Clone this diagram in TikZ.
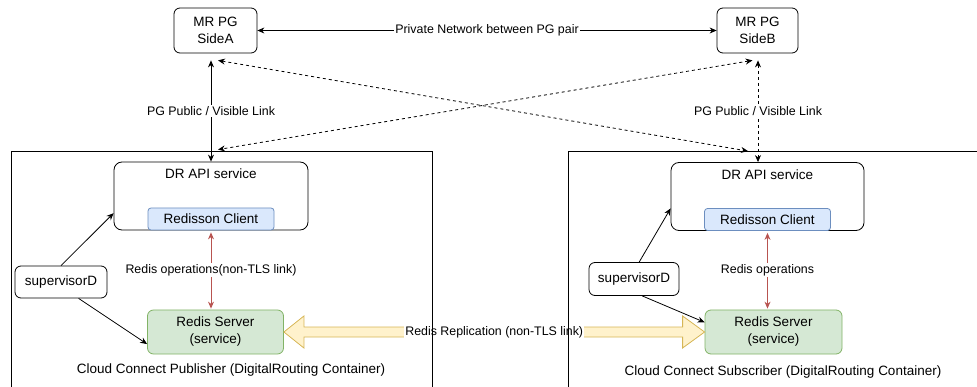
\documentclass[tikz,border=0pt]{standalone}
\usepackage{fontspec}
\setmainfont{Liberation Sans}
\usetikzlibrary{positioning,arrows.meta,calc}

\definecolor{clientfill}{HTML}{DAE8FC}
\definecolor{clientline}{HTML}{6C8EBF}
\definecolor{serverfill}{HTML}{D5E8D4}
\definecolor{serverline}{HTML}{82B366}
\definecolor{replfill}{HTML}{FFF2CC}
\definecolor{replline}{HTML}{D6B656}
\definecolor{opred}{HTML}{B85450}

\begin{document}
\begin{tikzpicture}[
  x=1pt, y=-1pt,
  box/.style={draw, rounded corners=6pt, line width=0.8pt, align=center, inner sep=2pt, font=\fontsize{13.5}{17}\selectfont},
  client/.style={box, draw=clientline, fill=clientfill, rounded corners=3pt, minimum width=126pt, minimum height=22pt},
  server/.style={box, draw=serverline, fill=serverfill, minimum width=136pt, minimum height=44pt},
  tag/.style={fill=white, inner sep=1pt, font=\fontsize{12.4}{14}\selectfont},
  arrow/.style={-{Stealth[length=7pt,width=6pt]}, line width=0.8pt},
  link/.style={{Stealth[length=7pt,width=6pt]}-{Stealth[length=7pt,width=6pt]}, line width=0.8pt},
  dlink/.style={link, dash pattern=on 3pt off 3pt},
  oplink/.style={{Stealth[length=7pt,width=6pt]}-{Stealth[length=7pt,width=6pt]}, draw=opred, line width=0.9pt, shorten <=2pt, shorten >=1pt},
  fat/.style={draw=replline, fill=replfill, line width=0.8pt, line join=miter},
  wall/.style={line width=0.8pt}
]
  \useasboundingbox (0,0) rectangle (977,387);

  % PG pair
  \node[box, minimum width=83pt, minimum height=45pt] (pga) at (215.5,30.5) {MR PG\\SideA};
  \node[box, minimum width=81pt, minimum height=45pt] (pgb) at (757.5,30.5) {MR PG\\SideB};

  % publisher side
  \node[box, rounded corners=8pt, minimum width=194pt, minimum height=68pt,
    label={[anchor=north, yshift=-4pt, font=\fontsize{13.5}{17}\selectfont]north:DR API service}] (apia) at (211,196) {};
  \node[client, anchor=south] (clienta) at (apia.south) {Redisson Client};
  \node[server] (redisa) at (215.5,332) {Redis Server\\(service)};
  \node[box, minimum width=92pt, minimum height=32pt] (supa) at (61,282) {supervisorD};
  \node[font=\fontsize{13.5}{17}\selectfont] (pubtxt) at (231,370) {Cloud Connect Publisher (DigitalRouting Container)};

  % subscriber side
  \node[box, rounded corners=8pt, minimum width=193pt, minimum height=68pt,
    label={[anchor=north, yshift=-4pt, font=\fontsize{13.5}{17}\selectfont]north:DR API service}] (apib) at (767.5,196.5) {};
  \node[client, anchor=south] (clientb) at (apib.south) {Redisson Client};
  \node[server, minimum width=137pt] (redisb) at (773.5,332) {Redis Server\\(service)};
  \node[box, minimum width=90pt, minimum height=33pt] (supb) at (634,279) {supervisorD};
  \node[font=\fontsize{13.5}{17}\selectfont] (subtxt) at (783,372) {Cloud Connect Subscriber (DigitalRouting Container)};

  % free ends
  \coordinate (pgaA) at ([xshift=-4.5pt,yshift=-7pt]pga.south);
  \coordinate (pgaB) at ([xshift=2.5pt,yshift=-7pt]pga.south);
  \coordinate (pgbA) at ([xshift=-5pt,yshift=-7pt]pgb.south);
  \coordinate (pgbB) at ([xshift=0.5pt,yshift=-7pt]pgb.south);
  \coordinate (apiaB) at ([xshift=7pt,yshift=12pt]apia.north);
  \coordinate (apibA) at ([xshift=-19.5pt,yshift=11pt]apib.north);

  \draw[link] (pga) -- node[tag] {Private Network between PG pair} (pgb);
  \draw[link] (pgaA) -- node[tag] {PG Public / Visible Link} (apia.north);
  \draw[dlink] (pgbB) -- node[tag] {PG Public / Visible Link} ([xshift=-9.5pt]apib.north);
  \draw[dlink] (pgaB) -- (apibA);
  \draw[dlink] (pgbA) -- (apiaB);

  \draw[oplink] (clienta.south) -- node[tag] {Redis operations(non-TLS link)} (clienta.south |- redisa.north);
  \draw[oplink] (clientb.south) -- node[tag] {Redis operations} (clientb.south |- redisb.north);

  \draw[arrow] (supa.north) -- (apia.190);
  \draw[arrow] (supa.-43) -- (redisa.190);
  \draw[arrow] (supb.73) -- (apib.187);
  \draw[arrow] (supb.-64) -- (redisb.172);

  % replication
  \draw[fat] (redisa.east) -- ++(20,-16) -- ++(0,11) -- ($(redisb.west)+(-22,-5)$) -- ++(0,-11)
    -- (redisb.west) -- ++(-22,16) -- ++(0,-11) -- ($(redisa.east)+(20,5)$) -- ++(0,11) -- cycle;
  \node[tag] (repl) at ($(redisa.east)!0.5!(redisb.west)$) {Redis Replication (non-TLS link)};

  % containers
  \draw[wall] (11,387) -- (11,151) -- (432,151) -- (432,387);
  \draw[wall] (568,387) -- (568,151) -- (977,151);
\end{tikzpicture}
\end{document}
